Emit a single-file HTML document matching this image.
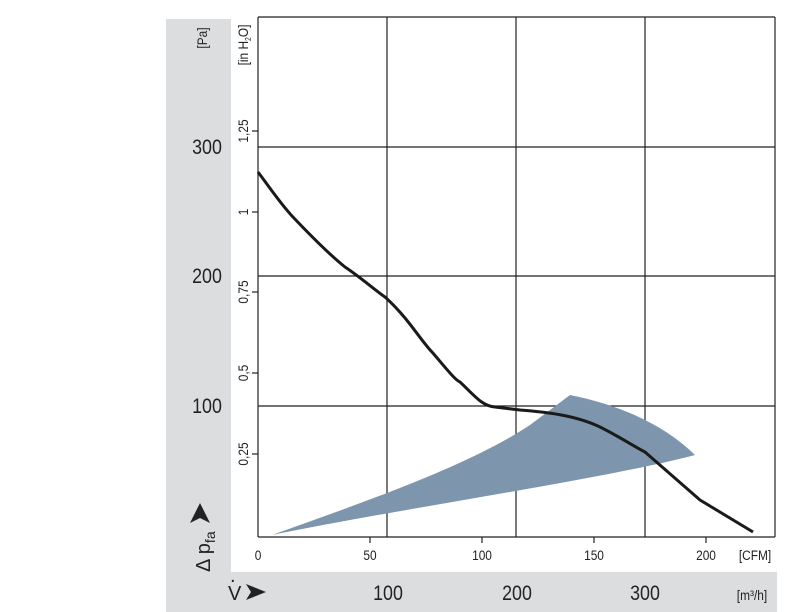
<!DOCTYPE html>
<html><head><style>
body{margin:0;background:#fff;}
svg{display:block;font-family:"Liberation Sans",Arial,sans-serif;}
</style></head><body>
<svg width="800" height="612" viewBox="0 0 800 612">
<rect x="166" y="19" width="65" height="593" fill="#dcdddf"/>
<rect x="166" y="572" width="611" height="40" fill="#dcdddf"/>
<g stroke="#222" stroke-width="1.2" fill="none">
<line x1="258" y1="17" x2="775" y2="17"/>
<line x1="258" y1="17" x2="258" y2="537"/>
<line x1="775" y1="17" x2="775" y2="537"/>
<line x1="258" y1="537" x2="775" y2="537"/>
<line x1="387" y1="17" x2="387" y2="537"/>
<line x1="516" y1="17" x2="516" y2="537"/>
<line x1="645" y1="17" x2="645" y2="537"/>
<line x1="258" y1="147" x2="775" y2="147"/>
<line x1="258" y1="276" x2="775" y2="276"/>
<line x1="258" y1="406" x2="775" y2="406"/>
<line x1="252" y1="131" x2="258" y2="131"/>
<line x1="252" y1="212" x2="258" y2="212"/>
<line x1="252" y1="292" x2="258" y2="292"/>
<line x1="252" y1="373" x2="258" y2="373"/>
<line x1="252" y1="454" x2="258" y2="454"/>
<line x1="370" y1="537" x2="370" y2="543"/>
<line x1="482" y1="537" x2="482" y2="543"/>
<line x1="594" y1="537" x2="594" y2="543"/>
<line x1="706" y1="537" x2="706" y2="543"/>
</g>
<path d="M272,535 C370,500 470,465 530,425 L570,395 C620,405 665,425 695,455 C600,480 420,505 272,535 Z" fill="#7e96ad"/>
<path d="M258,172 C270,188 280,203 292,216 C310,235 330,255 345,267 C360,277 375,290 385,297 C395,306 400,312 405,318 C415,330 425,345 432,352 C445,367 455,380 460,382 C475,396 482,406 495,407 L520,410 C545,412 575,415 600,427 C620,437 635,447 645,452 L700,500 L753,532" fill="none" stroke="#1a1a1a" stroke-width="3" stroke-linejoin="round"/>
<g font-size="14" fill="#222">
<text transform="translate(258,560) scale(0.85,1)" text-anchor="middle">0</text>
<text transform="translate(370,560) scale(0.85,1)" text-anchor="middle">50</text>
<text transform="translate(482,560) scale(0.85,1)" text-anchor="middle">100</text>
<text transform="translate(594,560) scale(0.85,1)" text-anchor="middle">150</text>
<text transform="translate(706,560) scale(0.85,1)" text-anchor="middle">200</text>
<text transform="translate(755,560) scale(0.85,1)" text-anchor="middle">[CFM]</text>
</g>
<g font-size="14" fill="#222">
<text transform="translate(248,131) rotate(-90) scale(0.85,1)" text-anchor="middle">1,25</text>
<text transform="translate(248,212) rotate(-90) scale(0.85,1)" text-anchor="middle">1</text>
<text transform="translate(248,292) rotate(-90) scale(0.85,1)" text-anchor="middle">0,75</text>
<text transform="translate(248,373) rotate(-90) scale(0.85,1)" text-anchor="middle">0,5</text>
<text transform="translate(248,454) rotate(-90) scale(0.85,1)" text-anchor="middle">0,25</text>
<text transform="translate(248,45) rotate(-90) scale(0.85,1)" text-anchor="middle">[in H<tspan font-size="8" dy="3">2</tspan><tspan dy="-3">O]</tspan></text>
<text transform="translate(207,38) rotate(-90) scale(0.85,1)" text-anchor="middle">[Pa]</text>
</g>
<g font-size="21" fill="#222" text-anchor="middle">
<text transform="translate(207,154) scale(0.85,1)">300</text>
<text transform="translate(207,283) scale(0.85,1)">200</text>
<text transform="translate(207,413) scale(0.85,1)">100</text>
<text transform="translate(388,600) scale(0.85,1)">100</text>
<text transform="translate(517,600) scale(0.85,1)">200</text>
<text transform="translate(645,600) scale(0.85,1)">300</text>
</g>
<text transform="translate(752,600) scale(0.85,1)" font-size="14" fill="#222" text-anchor="middle">[m³/h]</text>
<text x="228" y="600" font-size="20" fill="#222">V</text>
<text x="230" y="582" font-size="20" fill="#222">.</text>
<path d="M246,584 L266,592 L246,600 L251,592 Z" fill="#222"/>
<text transform="translate(210,572) rotate(-90)" font-size="20" fill="#222">Δ p<tspan font-size="14" dy="5">fa</tspan></text>
<path d="M190,523 L200,503 L210,523 L200,518 Z" fill="#222"/>
</svg>
</body></html>
